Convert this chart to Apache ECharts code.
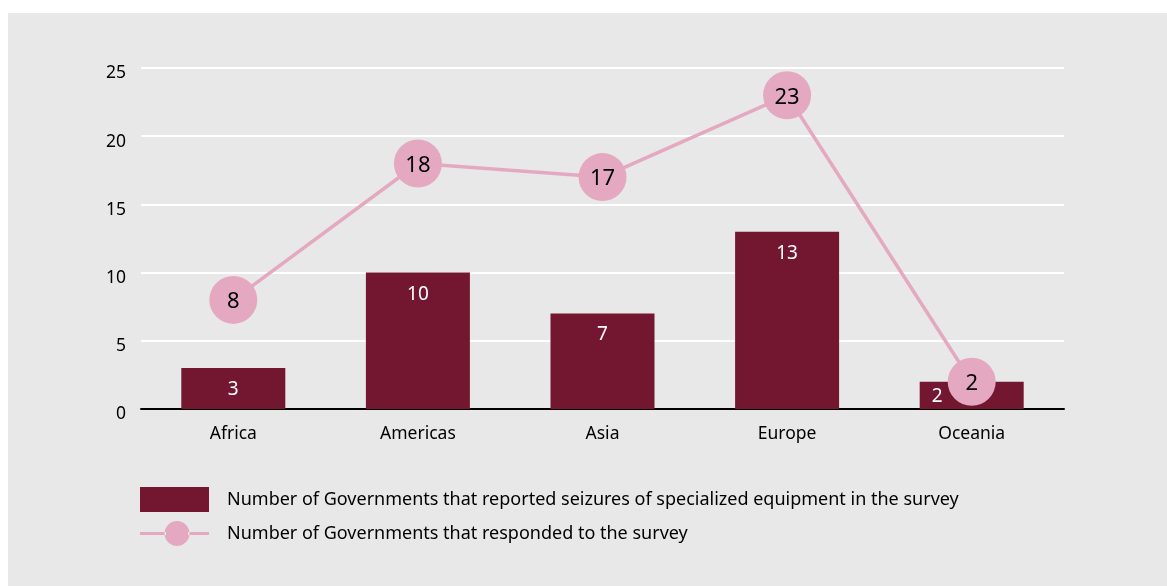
<!DOCTYPE html>
<html>
<head>
<meta charset="utf-8">
<script src="https://cdn.jsdelivr.net/npm/echarts@6/dist/echarts.min.js"></script>
<style>
  html, body { margin: 0; padding: 0; background: #fff; }
  #chartEl {
    position: absolute;
    left: 8px;
    top: 13px;
    width: 1159px;
    height: 573px;
  }
</style>
</head>
<body>
<div id="chartEl"></div>
<script>
const regions = ["Africa", "Americas", "Asia", "Europe", "Oceania"];
const seizures = [3, 10, 7, 13, 2];
const responded = [8, 18, 17, 23, 2];
const yTicks = [0, 5, 10, 15, 20, 25];

const seizureName = "Number of Governments that reported seizures of specialized equipment in the survey";
const respondName = "Number of Governments that responded to the survey";

const font = "Noto Sans";
const barColor = "#731731";
const pink = "#e4a9c0";

// legend icon for the line: two short strokes with a dot between them
const lineIcon =
  "path://M0,11 L26,11 L26,14 L0,14 Z " +
  "M48,11 L69,11 L69,14 L48,14 Z " +
  "M24.5,12.5 A12.5,12.5 0 1 0 49.5,12.5 A12.5,12.5 0 1 0 24.5,12.5 Z";

const myChart = echarts.init(document.getElementById("chartEl"));

// Oceania label sits left so the circle does not cover it
const barData = seizures.map((v, i) => {
  if (regions[i] === "Oceania") {
    return { value: v, label: { position: "insideLeft", distance: 12, offset: [0, 1] } };
  }
  return v;
});

const option = {
  backgroundColor: "#e8e8e8",
  animation: false,
  textStyle: { fontFamily: font },
  grid: {
    left: 133,
    top: 55,
    width: 923,
    height: 341,
  },
  xAxis: {
    type: "category",
    data: regions,
    axisLine: { lineStyle: { color: "#000", width: 2 } },
    axisTick: { show: false },
    axisLabel: { color: "#000", fontSize: 17.5, margin: 16, fontFamily: font },
  },
  yAxis: {
    type: "value",
    min: yTicks[0],
    max: yTicks[yTicks.length - 1],
    interval: 5,
    axisLine: { show: false },
    axisTick: { show: false },
    splitLine: { lineStyle: { color: "#fff", width: 2 } },
    axisLabel: {
      color: "#000",
      fontSize: 17.5,
      margin: 15,
      verticalAlign: "top",
      lineHeight: 11,
      fontFamily: font,
    },
  },
  legend: {
    orient: "vertical",
    left: 127,
    top: 469,
    itemWidth: 69,
    itemHeight: 25,
    itemGap: 9,
    textStyle: { color: "#000", fontSize: 18, fontFamily: font, padding: [0, 0, 0, 13] },
    data: [
      { name: seizureName, icon: "rect" },
      { name: respondName, icon: lineIcon, itemStyle: { color: pink } },
    ],
  },
  series: [
    {
      name: seizureName,
      type: "bar",
      data: barData,
      barWidth: 104,
      itemStyle: { color: barColor },
      label: {
        show: true,
        position: "insideTop",
        distance: 12,
        color: "#fff",
        fontSize: 19,
        fontFamily: font,
      },
      z: 2,
    },
    {
      name: respondName,
      type: "line",
      data: responded,
      symbol: "circle",
      symbolSize: 48,
      lineStyle: { color: pink, width: 3.5 },
      itemStyle: { color: pink },
      label: {
        show: true,
        position: "inside",
        offset: [0, 2],
        color: "#000",
        fontSize: 22,
        fontFamily: font,
      },
      z: 3,
    },
  ],
};

myChart.setOption(option);
</script>
</body>
</html>
